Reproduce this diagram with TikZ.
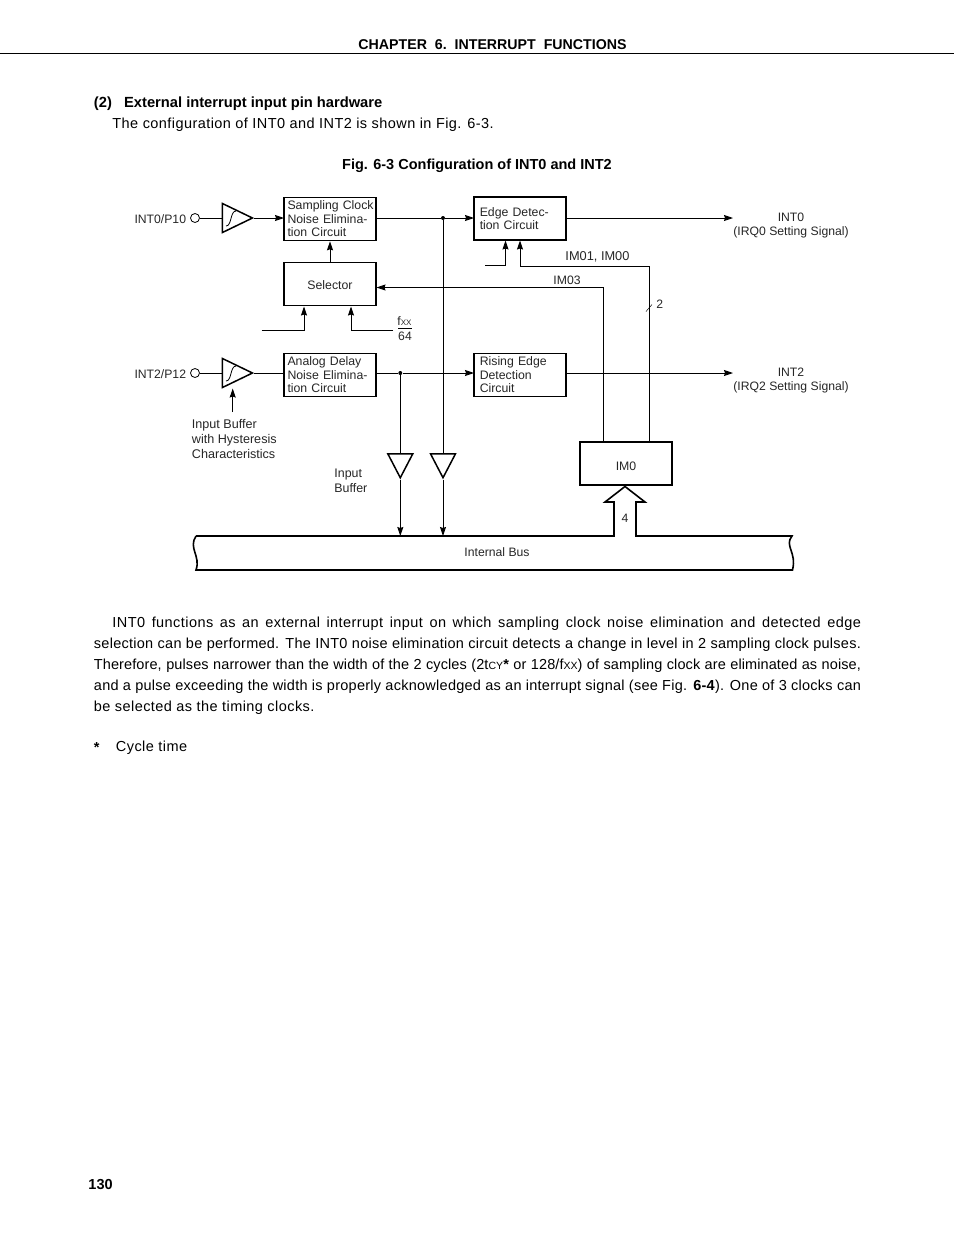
\documentclass[tikz,border=0pt]{standalone}
\usepackage{fontspec}
\setmainfont{Liberation Sans}
\newfontfamily\bodyfont[LetterSpace=3]{Liberation Sans}
\newfontfamily\midfont[LetterSpace=1.8]{Liberation Sans}
\newfontfamily\tightfont[LetterSpace=0.7]{Liberation Sans}
\usetikzlibrary{arrows.meta,shapes.geometric}
\tikzset{
  label text/.style={inner sep=0pt, text=black!85, align=left, font=\fontsize{12.2}{13.5}\selectfont},
  blockbox/.style={draw, line width=1.6pt, inner xsep=3.5pt, inner ysep=0pt, text width=85pt,
    minimum height=43pt, align=left, text=black!85, font=\fontsize{12.3}{13.5}\selectfont},
  edgebox/.style={blockbox, inner xsep=6pt, text width=80.5pt},
  buffer/.style={draw, line width=1.5pt, isosceles triangle, isosceles triangle stretches, inner sep=0pt,
    minimum width=29pt, minimum height=30pt, anchor=lower side},
  inbuffer/.style={draw, line width=1.5pt, isosceles triangle, isosceles triangle stretches, inner sep=0pt,
    minimum width=25pt, minimum height=24pt, shape border rotate=-90, anchor=lower side},
  pinmark/.style={draw, circle, line width=0.8pt, inner sep=0pt, minimum size=9pt},
  dotmark/.style={fill, circle, inner sep=0pt, minimum size=4pt},
  page bold/.style={inner sep=0pt, anchor=west, font=\fontsize{14.5}{16}\bfseries\selectfont},
  page line/.style={inner sep=0pt, anchor=west, font=\fontsize{14.5}{16}\bodyfont}
}
\newcommand{\bodyline}[1]{\makebox[767pt][s]{#1}}
\newcommand{\smallcap}[1]{{\fontsize{10.5}{12}\selectfont #1}}
\begin{document}
\begin{tikzpicture}[x=1pt, y=-1pt, line width=0.9pt, >={Stealth[length=9pt,width=6pt,inset=1pt]}]
  \useasboundingbox (0,0) rectangle (954,1235);

  % page head
  \node[page bold, anchor=center, font=\fontsize{14.2}{16}\bfseries\selectfont] (chapter) at (492.5,44.5) {CHAPTER\ \ 6.\ \ INTERRUPT\ \ FUNCTIONS};
  \coordinate (ruleleft) at (0,53.5);
  \coordinate (ruleright) at (954,53.5);
  \draw (ruleleft) -- (ruleright);
  \node[page bold, font=\fontsize{14.7}{16}\bfseries\selectfont] (section) at (93.5,104) {(2)\ \ \ External interrupt input pin hardware};
  \node[page line] (intro) at (112,124.5) {The configuration of INT0 and INT2 is shown in Fig. 6-3.};
  \node[page bold, anchor=center] (caption) at (477,166) {Fig. 6-3 Configuration of INT0 and INT2};

  % blocks
  \node[blockbox] (sampling) at (330,219) {\makebox[85pt][l]{Sampling Clock}\\Noise Elimina-\\tion Circuit};
  \node[blockbox, align=center] (selector) at (330,284) {\raisebox{-5.5pt}[0pt][0pt]{Selector}};
  \node[blockbox] (analog) at (330,375) {Analog Delay\\Noise Elimina-\\tion Circuit};
  \node[edgebox] (edge) at (520,218.5) {Edge Detec-\\tion Circuit\\[5pt]};
  \node[edgebox] (rising) at (520,375) {Rising Edge\\Detection\\Circuit};
  \node[blockbox, align=center, minimum height=43pt] (im0) at (626,463.5) {\raisebox{-6.5pt}[0pt][0pt]{IM0}};

  % pins and buffers
  \node[pinmark] (pin0) at (195,218) {};
  \node[pinmark] (pin2) at (195,373) {};
  \node[buffer] (buf0) at (221.7,218) {};
  \node[buffer] (buf2) at (221.7,373) {};
  \node[inbuffer] (drv2) at (400.3,453) {};
  \node[inbuffer] (drv0) at (443,453) {};
  \draw[line width=0.8pt] (226,226) .. controls (232,226) and (230,211) .. (236,211);
  \draw[line width=0.8pt] (226,381) .. controls (232,381) and (230,366) .. (236,366);

  % junctions and free ends
  \node[dotmark] (dot0) at (443,218) {};
  \node[dotmark] (dot2) at (400.3,373) {};
  \coordinate (sampin) at (284,218);
  \coordinate (sampout) at (376,218);
  \coordinate (edgein) at (474,218);
  \coordinate (edgeout) at (566,218);
  \coordinate (out0) at (733,218);
  \coordinate (an2in) at (284,373);
  \coordinate (an2out) at (376,373);
  \coordinate (risein) at (474,373);
  \coordinate (riseout) at (566,373);
  \coordinate (out2) at (733,373);
  \coordinate (selin) at (376.5,287.5);
  \coordinate (imthree) at (603.5,441);
  \coordinate (imone) at (649,441);
  \coordinate (edgemode) at (520,240.5);
  \coordinate (edgeclk) at (505.5,240.5);
  \coordinate (clkfree) at (485,265.5);
  \coordinate (selfree) at (261.5,330);
  \coordinate (selclk) at (304,306.5);
  \coordinate (seldiv) at (351,306.5);
  \coordinate (divfree) at (393,330);
  \coordinate (bus2) at (400.3,536);
  \coordinate (bus0) at (443,536);
  \coordinate (hysfree) at (232.7,412);
  \coordinate (hystip) at (232.7,388.5);
  \coordinate (ticka) at (646,311.5);
  \coordinate (tickb) at (652,304.5);

  % connectors
  \draw (pin0) -- (buf0.lower side);
  \draw[->] (buf0.apex) -- (sampin);
  \draw (sampout) -- (dot0);
  \draw[->] (dot0) -- (edgein);
  \draw[->] (edgeout) -- (out0);
  \draw[->] (selector) -- (sampling);
  \draw (pin2) -- (buf2.lower side);
  \draw (buf2.apex) -- (an2in);
  \draw (an2out) -- (dot2);
  \draw[->] (dot2) -- (risein);
  \draw[->] (riseout) -- (out2);
  \draw[->] (hysfree) -- (hystip);
  \draw (dot0) -- (drv0.lower side);
  \draw (dot2) -- (drv2.lower side);
  \draw[->] (drv0.apex) -- (bus0);
  \draw[->] (drv2.apex) -- (bus2);
  \draw[->] (imthree) |- (selin);
  \draw[->] (imone) |- (520,266) -- (edgemode);
  \draw[->] (clkfree) -| (edgeclk);
  \draw[->] (selfree) -| (selclk);
  \draw[->] (divfree) -| (seldiv);
  \draw[line width=0.5pt] (ticka) -- (tickb);

  % bus with its wide arrow
  \draw[line width=1.6pt, line join=miter]
    (196,536) -- (614,536) -- (614,502) -- (605,502) -- (625,486.5) -- (645,502) -- (636,502) -- (636,536) -- (792,536)
    .. controls (784,546) and (797,552) .. (792.5,570) -- (196,570)
    .. controls (201,556) and (188,548) .. (196,536);

  % labels
  \node[label text, anchor=east] (pin0text) at (186.5,219.5) {INT0/P10};
  \node[label text, anchor=east] (pin2text) at (186.5,374.5) {INT2/P12};
  \node[label text, align=center] (out0text) at (791,225.5) {INT0\\(IRQ0 Setting Signal)};
  \node[label text, align=center] (out2text) at (791,380.5) {INT2\\(IRQ2 Setting Signal)};
  \node[label text, anchor=west, font=\fontsize{12.8}{13.5}\selectfont] (imonetext) at (565,256.5) {IM01, IM00};
  \node[label text, anchor=west] (imthreetext) at (553,280.5) {IM03};
  \node[label text, anchor=west] (widthtext) at (656,304.5) {2};
  \node[label text] (fxxtop) at (404.5,321.5) {f\fontsize{8}{10}\selectfont XX};
  \node[label text] (fxxbottom) at (405,336) {64};
  \coordinate (fraca) at (398,328.5);
  \coordinate (fracb) at (412,328.5);
  \draw[line width=0.5pt] (fraca) -- (fracb);
  \node[label text, anchor=north west, font=\fontsize{12.6}{15}\selectfont] (hystext) at (191.5,419) {Input Buffer\\with Hysteresis\\Characteristics};
  \node[label text, anchor=north west, font=\fontsize{12.4}{15}\selectfont] (buftext) at (334,468.5) {Input\\Buffer};
  \node[label text] (fourtext) at (625,518) {4};
  \node[label text] (bustext) at (497,552) {Internal Bus};

  % text below the figure
  \node[page line] (para1) at (112,623.5) {\makebox[748.5pt][s]{INT0 functions as an external interrupt input on which sampling clock noise elimination and detected edge}};
  \node[page line, font=\fontsize{14.5}{16}\midfont] (para2) at (93.5,644.5) {\bodyline{selection can be performed. The INT0 noise elimination circuit detects a change in level in 2 sampling clock pulses.}};
  \node[page line, font=\fontsize{14.5}{16}\tightfont] (para3) at (93.5,665.5) {\bodyline{Therefore, pulses narrower than the width of the 2 cycles (2t\smallcap{CY}\textbf{*} or 128/f\smallcap{XX}) of sampling clock are eliminated as noise,}};
  \node[page line, font=\fontsize{14.5}{16}\midfont] (para4) at (93.5,686.5) {\bodyline{and a pulse exceeding the width is properly acknowledged as an interrupt signal (see Fig. \textbf{6-4}). One of 3 clocks can}};
  \node[page line] (para5) at (93.5,707.5) {be selected as the timing clocks.};
  \node[page bold] (starmark) at (93.5,747.5) {*};
  \node[page line] (cycle) at (115.5,747.5) {Cycle time};
  \node[page bold] (pagenum) at (88,1185) {130};
\end{tikzpicture}
\end{document}
